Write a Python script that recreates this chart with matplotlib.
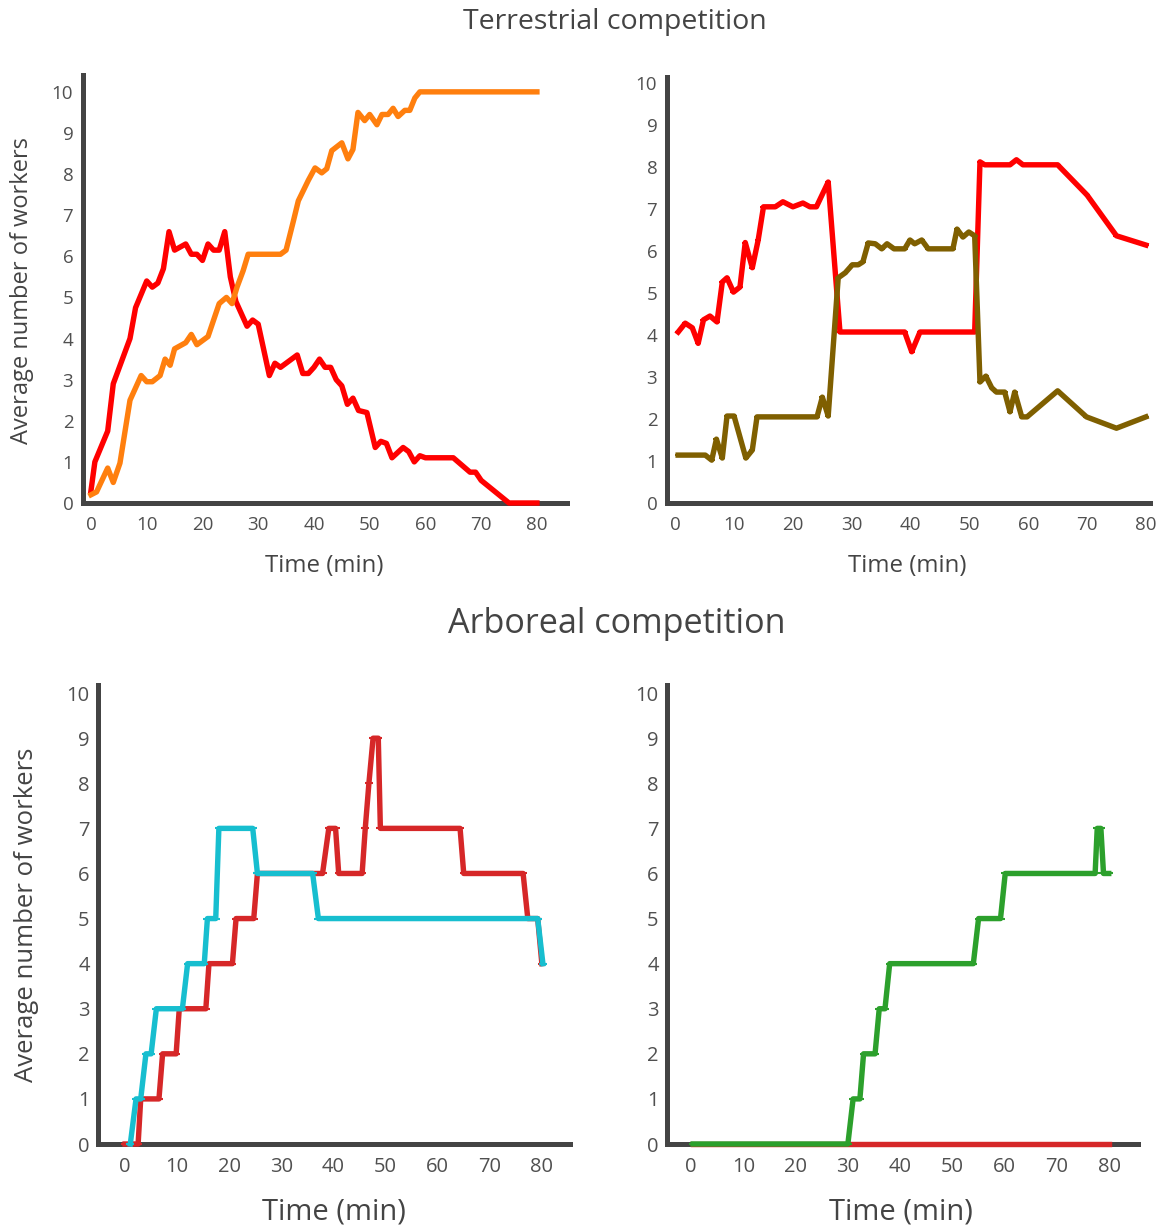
import numpy as np
import matplotlib
matplotlib.use("Agg")
import matplotlib.pyplot as plt

plt.rcParams['font.family'] = ['Open Sans', 'DejaVu Sans']

# terrestrial, left panel
t_terr_red = [0, 0.7, 3, 4, 7, 8, 10, 11, 12, 13, 14, 15, 17, 18, 19, 20, 21, 22, 23, 24,
              25, 26, 28, 29, 30, 32, 33, 34, 37, 38, 39, 40, 41, 42, 43, 44, 45, 46, 47, 48,
              49.5, 51, 52, 53, 54, 56, 57, 58, 59, 60, 65, 68, 69, 70, 75, 80]
y_terr_red = [0.3, 1.0, 1.75, 2.9, 4.0, 4.75, 5.4, 5.25, 5.35, 5.7, 6.6, 6.15, 6.3, 6.05, 6.05, 5.9, 6.3, 6.15, 6.15, 6.6,
              5.5, 4.9, 4.3, 4.45, 4.35, 3.1, 3.4, 3.3, 3.6, 3.15, 3.15, 3.3, 3.5, 3.3, 3.3, 3.0, 2.85, 2.4, 2.55, 2.25,
              2.2, 1.35, 1.5, 1.45, 1.1, 1.35, 1.25, 1.0, 1.15, 1.1, 1.1, 0.75, 0.75, 0.55, 0, 0]
t_terr_orange = [0, 1, 3, 4, 5.2, 7, 9, 10, 11, 12.4, 13.3, 14.2, 15, 17, 18, 19, 21, 23, 24.3, 25.3,
                 26.2, 27.3, 28.2, 34, 35, 36.3, 37.2, 39, 40.2, 41.4, 42.3, 43.2, 45, 46.1, 47, 47.9, 49.1, 50, 51.3, 52.2,
                 53.3, 54.2, 55.1, 56.3, 57.2, 58.1, 59, 80]
y_terr_orange = [0.2, 0.27, 0.85, 0.5, 0.97, 2.5, 3.1, 2.95, 2.95, 3.1, 3.5, 3.35, 3.75, 3.9, 4.1, 3.85, 4.05, 4.85, 5.0, 4.85,
                 5.25, 5.65, 6.05, 6.05, 6.15, 6.85, 7.35, 7.85, 8.15, 8.03, 8.13, 8.57, 8.76, 8.37, 8.6, 9.5, 9.3, 9.45, 9.2, 9.45,
                 9.45, 9.6, 9.4, 9.55, 9.55, 9.85, 10, 10]

# terrestrial, right panel
t_terr2_red = [0.5, 1.7, 2.9, 3.9, 4.8, 5.9, 7.1, 8, 8.8, 9.9, 11, 11.9, 13.1, 14.1, 15, 17, 18.3, 20, 21.7, 22.9,
               24, 26, 28, 39, 40.2, 41.6, 50.9, 51.8, 52.6, 56.9, 58, 59.1, 65, 70, 75, 80]
y_terr2_red = [4.07, 4.28, 4.17, 3.8, 4.36, 4.45, 4.31, 5.26, 5.36, 5.02, 5.14, 6.2, 5.6, 6.26, 7.05, 7.05, 7.17, 7.05, 7.14, 7.05,
               7.05, 7.64, 4.07, 4.07, 3.6, 4.07, 4.07, 8.12, 8.05, 8.05, 8.17, 8.05, 8.05, 7.33, 6.36, 6.14]
t_terr2_brown = [0.5, 5.1, 6.2, 7, 8, 8.8, 10, 12, 13.1, 13.9, 24.1, 25, 26, 27.7, 28.9, 30.1, 31.1, 31.9, 32.8, 34,
                 35.1, 36, 37.2, 39, 39.9, 40.7, 41.9, 43, 47.2, 47.9, 48.9, 49.9, 50.9, 51.8, 52.8, 53.8, 54.6, 56, 56.9, 57.7,
                 58.9, 59.8, 65, 69.9, 75, 80]
y_terr2_brown = [1.14, 1.14, 1.02, 1.52, 1.07, 2.07, 2.07, 1.07, 1.26, 2.05, 2.05, 2.52, 2.07, 5.36, 5.48, 5.67, 5.67, 5.74, 6.19, 6.17,
                 6.05, 6.17, 6.05, 6.05, 6.26, 6.17, 6.26, 6.05, 6.05, 6.52, 6.33, 6.45, 6.36, 2.88, 3.02, 2.74, 2.64, 2.64, 2.17, 2.64,
                 2.05, 2.05, 2.67, 2.05, 1.78, 2.05]

# arboreal, left panel
t_arb_red = [0, 2.5, 3, 6.5, 7.2, 9.8, 10.4, 15.5, 16.1, 20.6, 21.3, 24.7, 25.4, 37.9, 39.1, 40.4, 41, 45.5, 46.1, 46.8,
             47.6, 48.6, 49, 64.3, 65, 76.4, 77.3, 79.2, 80]
y_arb_red = [0, 0, 1, 1, 2, 2, 3, 3, 4, 4, 5, 5, 6, 6, 7, 7, 6, 6, 7, 8,
             9, 9, 7, 7, 6, 6, 5, 5, 4]
t_arb_cyan = [1, 2.1, 3, 4, 5, 6, 11, 12, 15.2, 15.8, 17.4, 18, 24.5, 25.4, 36, 37.1, 79.2, 80.2]
y_arb_cyan = [0, 1, 1, 2, 2, 3, 3, 4, 4, 5, 5, 7, 7, 6, 6, 5, 5, 4]

# arboreal, right panel
t_arb2_red = [0.4, 79.9]
y_arb2_red = [0, 0]
t_arb2_green = [0.4, 30, 31, 32.3, 33, 35.2, 36, 37.1, 38, 54, 55, 59.2, 60.1, 77.3, 77.7, 78.4, 78.9, 79.9]
y_arb2_green = [0, 0, 1, 1, 2, 2, 3, 3, 4, 4, 5, 5, 6, 6, 7, 7, 6, 6]

xticks = [0, 10, 20, 30, 40, 50, 60, 70, 80]
yticks = list(range(0, 11))

W, H = 1162, 1228
fig = plt.figure(figsize=(W / 100, H / 100), dpi=100)
txt = '#444444'


def make_ax(left, right, top, bottom, xlim, ylim, fs_tick, pad_y, pad_x):
    ax = fig.add_axes([left / W, 1 - bottom / H, (right - left) / W, (bottom - top) / H])
    ax.set_xlim(*xlim)
    ax.set_ylim(*ylim)
    for s in ['top', 'right']:
        ax.spines[s].set_visible(False)
    for s in ['left', 'bottom']:
        ax.spines[s].set_color('#444444')
        ax.spines[s].set_linewidth(3.6)
    ax.set_xticks(xticks)
    ax.set_yticks(yticks)
    ax.tick_params(axis='both', length=0, labelsize=fs_tick, colors='#505050')
    ax.tick_params(axis='y', pad=pad_y)
    ax.tick_params(axis='x', pad=pad_x)
    return ax


lw = 3.9

ax1 = make_ax(83, 567, 75, 503, (-1.43, 85.4), (0, 10.41), 13.5, 7, 9)
ax1.plot(t_terr_red, y_terr_red, color='#ff0000', lw=lw, clip_on=False, zorder=3)
ax1.plot(t_terr_orange, y_terr_orange, color='#ff7f0e', lw=lw, clip_on=False, zorder=3)

ax2 = make_ax(667, 1150, 77, 503, (-1.4, 80.7), (0, 10.14), 13.5, 7, 9)
ax2.plot(t_terr2_red, y_terr2_red, color='#ff0000', lw=lw, marker='_', ms=5, mew=1.5, clip_on=False, zorder=3)
ax2.plot(t_terr2_brown, y_terr2_brown, color='#7f5f00', lw=lw, marker='_', ms=5, mew=1.5, clip_on=False, zorder=3)

ax3 = make_ax(98, 570, 685, 1144, (-5.2, 85.4), (0, 10.18), 14.5, 6, 9)
ax3.plot(t_arb_red, y_arb_red, color='#d62728', lw=lw, marker='_', ms=6, mew=1.5, clip_on=False, zorder=3)
ax3.plot(t_arb_cyan, y_arb_cyan, color='#17becf', lw=lw, marker='_', ms=6, mew=1.5, clip_on=False, zorder=3)

ax4 = make_ax(667, 1138, 685, 1144, (-4.6, 85.5), (0, 10.18), 14.5, 6, 9)
ax4.plot(t_arb2_red, y_arb2_red, color='#d62728', lw=lw, clip_on=False, zorder=3)
ax4.plot(t_arb2_green, y_arb2_green, color='#2ca02c', lw=lw, marker='_', ms=6, mew=1.5, clip_on=False, zorder=3)

# titles and axis labels
fig.text(615 / W, 1 - 22 / H, 'Terrestrial competition', ha='center', va='center', fontsize=20.5, color=txt)
fig.text(617 / W, 1 - 624 / H, 'Arboreal competition', ha='center', va='center', fontsize=24.6, color=txt)
fig.text(22 / W, 1 - 290 / H, 'Average number of workers', rotation=90, ha='center', va='center', fontsize=17, color=txt)
fig.text(27 / W, 1 - 915 / H, 'Average number of workers', rotation=90, ha='center', va='center', fontsize=18.5, color=txt)
fig.text(324 / W, 1 - 566 / H, 'Time (min)', ha='center', va='center', fontsize=17.3, color=txt)
fig.text(907 / W, 1 - 566 / H, 'Time (min)', ha='center', va='center', fontsize=17.3, color=txt)
fig.text(334 / W, 1 - 1212 / H, 'Time (min)', ha='center', va='center', fontsize=21, color=txt)
fig.text(901 / W, 1 - 1212 / H, 'Time (min)', ha='center', va='center', fontsize=21, color=txt)

fig.savefig('out.png', dpi=100, facecolor='white')
